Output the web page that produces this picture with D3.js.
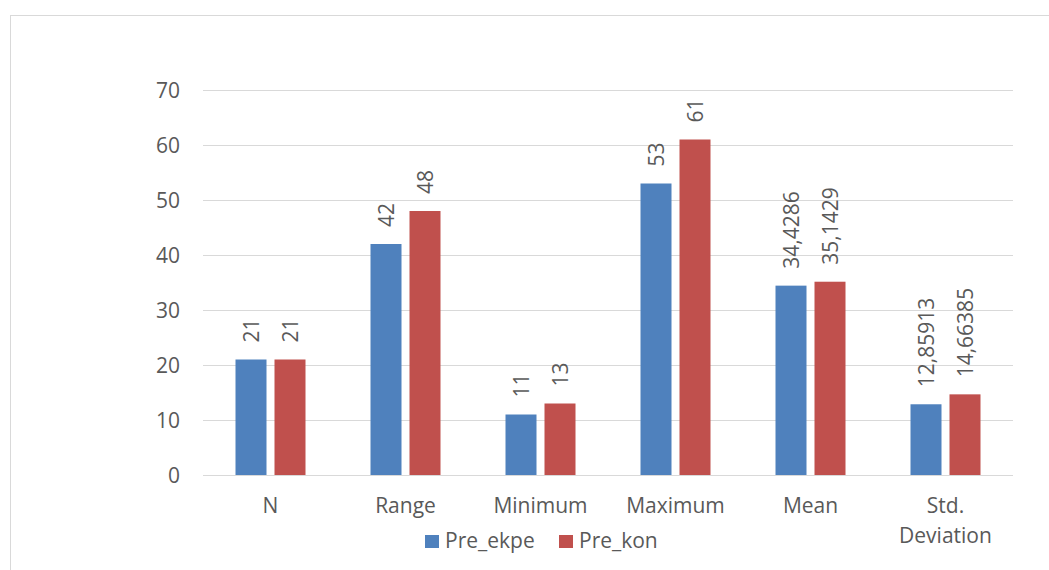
<!DOCTYPE html>
<html>
<head>
<meta charset="utf-8">
<script src="https://cdn.jsdelivr.net/npm/d3@7"></script>
<style>
  html, body { margin: 0; padding: 0; background: #fff; }
  svg { display: block; }
  text { font-family: "Open Sans", "Noto Sans", sans-serif; fill: #595959; }
</style>
</head>
<body>
<svg id="chart" width="1049" height="570"></svg>
<script>
const categories = ["N", "Range", "Minimum", "Maximum", "Mean", "Std. Deviation"];
const seriesNames = ["Pre_ekpe", "Pre_kon"];
const preEkpe = [21, 42, 11, 53, 34.4286, 12.85913];
const preKon = [21, 48, 13, 61, 35.1429, 14.66385];
const labelEkpe = ["21", "42", "11", "53", "34,4286", "12,85913"];
const labelKon = ["21", "48", "13", "61", "35,1429", "14,66385"];
const yTicks = [0, 10, 20, 30, 40, 50, 60, 70];
const colors = ["#4F81BD", "#C0504D"];

const svg = d3.select("#chart");
const FS = 21;

// outer chart border
svg.append("rect")
  .attr("x", 10.5).attr("y", 15.5)
  .attr("width", 1100).attr("height", 600)
  .attr("fill", "none").attr("stroke", "#D9D9D9").attr("stroke-width", 1);

const pLeft = 203, pRight = 1013, pTop = 90, pBottom = 475;

const y = d3.scaleLinear().domain([0, 70]).range([pBottom, pTop]);
const x0 = d3.scaleBand().domain(categories).range([pLeft, pRight])
  .paddingInner(65 / 135).paddingOuter(65 / 270);
const x1 = d3.scaleBand().domain(seriesNames).range([0, x0.bandwidth()])
  .paddingInner(8 / 39).paddingOuter(0);

// gridlines
svg.append("g").selectAll("line").data(yTicks).join("line")
  .attr("x1", pLeft).attr("x2", pRight)
  .attr("y1", d => Math.round(y(d)) + 0.5).attr("y2", d => Math.round(y(d)) + 0.5)
  .attr("stroke", "#D9D9D9").attr("stroke-width", 1);

// y axis labels
const yAxis = d3.axisLeft(y).tickValues(yTicks).tickSize(0).tickPadding(0);
const gy = svg.append("g").attr("transform", `translate(${pLeft - 23},0)`).call(yAxis);
gy.select(".domain").remove();
gy.selectAll("text").attr("font-size", FS).attr("fill", "#595959")
  .style("font-family", '"Open Sans", sans-serif').attr("dy", "0.35em");

// data
const rows = categories.map((c, i) => ({
  cat: c,
  vals: [
    { s: seriesNames[0], v: preEkpe[i], lab: labelEkpe[i], col: colors[0] },
    { s: seriesNames[1], v: preKon[i], lab: labelKon[i], col: colors[1] }
  ]
}));

const groups = svg.append("g").selectAll("g").data(rows).join("g")
  .attr("transform", d => `translate(${x0(d.cat)},0)`);

groups.selectAll("rect").data(d => d.vals).join("rect")
  .attr("x", d => x1(d.s))
  .attr("y", d => y(d.v))
  .attr("width", x1.bandwidth())
  .attr("height", d => y(0) - y(d.v))
  .attr("fill", d => d.col);

groups.selectAll("text.lbl").data(d => d.vals).join("text")
  .attr("class", "lbl")
  .attr("font-size", FS)
  .attr("text-anchor", "start")
  .attr("transform", d => `translate(${x1(d.s) + x1.bandwidth() / 2 + 7.5},${y(d.v) - 17}) rotate(-90)`)
  .text(d => d.lab);

// x axis category labels
const xl = svg.append("g");
categories.forEach(c => {
  const cx = x0(c) + x0.bandwidth() / 2;
  const parts = c === "Std. Deviation" ? ["Std.", "Deviation"] : [c];
  parts.forEach((p, j) => {
    xl.append("text")
      .attr("x", cx).attr("y", 513 + j * 30)
      .attr("text-anchor", "middle")
      .attr("font-size", FS)
      .text(p);
  });
});

// legend
const legend = svg.append("g");
const legX = [425, 559];
seriesNames.forEach((s, i) => {
  legend.append("rect")
    .attr("x", legX[i]).attr("y", 535)
    .attr("width", 14).attr("height", 13)
    .attr("fill", colors[i]);
  legend.append("text")
    .attr("x", legX[i] + 20).attr("y", 548)
    .attr("font-size", FS)
    .text(s);
});
</script>
</body>
</html>
